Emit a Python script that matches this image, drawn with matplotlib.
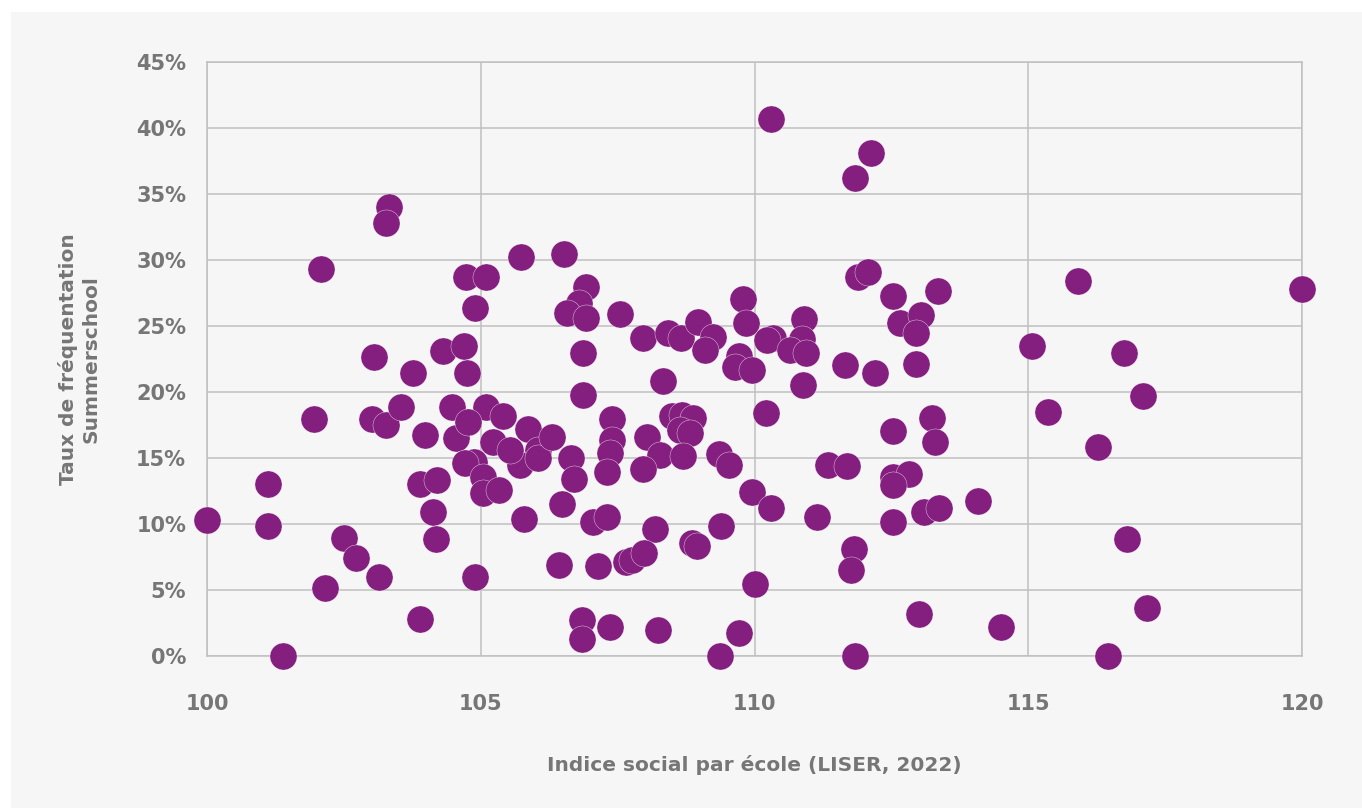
import matplotlib.pyplot as plt
from matplotlib.patches import Rectangle
from matplotlib.ticker import MultipleLocator, PercentFormatter

# Indice social par école (LISER, 2022)
indice_social = [
    100.0, 101.11, 101.11, 101.39, 101.95, 102.08, 102.16, 102.5, 102.72, 103.14,
    103.05, 103.01, 103.27, 103.32, 103.27, 103.54, 103.76, 103.98, 103.89, 104.2,
    104.13, 104.18, 103.89, 104.31, 104.69, 104.75, 104.47, 104.55, 105.1, 104.77,
    105.41, 105.22, 104.88, 104.71, 105.04, 105.04, 105.33, 105.79, 104.89, 105.86,
    106.05, 105.72, 105.53, 106.05, 104.73, 105.1, 104.89, 105.74, 110.3, 112.13,
    111.84, 106.52, 106.92, 106.79, 106.58, 106.92, 107.54, 106.87, 107.96, 108.42,
    108.66, 108.97, 109.24, 109.1, 109.79, 109.84, 109.72, 109.64, 109.95, 108.33,
    110.34, 110.23, 110.9, 110.87, 110.65, 110.94, 110.89, 111.89, 112.07, 112.53,
    113.35, 112.66, 113.04, 112.95, 111.65, 112.2, 112.95, 106.87, 110.21, 106.3,
    106.65, 106.7, 106.48, 107.4, 107.4, 107.36, 107.31, 108.04, 108.27, 107.96,
    108.49, 108.68, 108.88, 108.64, 108.82, 108.69, 109.35, 109.53, 109.95, 110.3,
    107.05, 107.31, 108.18, 108.86, 108.95, 109.39, 106.43, 107.14, 107.65, 107.76,
    107.98, 110.01, 106.85, 106.85, 107.36, 108.24, 109.72, 109.37, 111.34, 111.69,
    111.14, 112.53, 113.24, 113.3, 112.53, 112.82, 112.53, 112.53, 113.1, 113.37,
    111.82, 111.76, 113.0, 111.84, 115.91, 120.0, 115.07, 116.75, 117.1, 115.36,
    116.27, 114.08, 116.8, 114.5, 117.17, 116.46,
]

# Taux de fréquentation Summerschool (en %)
taux_summerschool = [
    10.3, 13.0, 9.85, 0.0, 17.95, 29.3, 5.15, 8.95, 7.4, 6.0,
    22.65, 17.95, 17.5, 34.0, 32.8, 18.85, 21.45, 16.75, 13.0, 13.3,
    10.9, 8.85, 2.8, 23.1, 23.5, 21.45, 18.85, 16.5, 18.85, 17.7,
    18.2, 16.2, 14.7, 14.6, 13.55, 12.35, 12.6, 10.4, 6.0, 17.2,
    15.6, 14.45, 15.6, 15.0, 28.7, 28.7, 26.35, 30.2, 40.7, 38.1,
    36.2, 30.45, 27.95, 26.75, 26.0, 25.6, 25.9, 22.95, 24.1, 24.45,
    24.1, 25.3, 24.15, 23.2, 27.05, 25.2, 22.7, 21.9, 21.65, 20.85,
    24.1, 23.95, 25.55, 24.0, 23.2, 22.95, 20.55, 28.7, 29.1, 27.3,
    27.65, 25.2, 25.85, 24.45, 22.05, 21.45, 22.1, 19.8, 18.4, 16.6,
    15.0, 13.4, 11.5, 17.95, 16.35, 15.4, 13.95, 16.6, 15.2, 14.15,
    18.2, 18.25, 18.05, 17.1, 16.9, 15.15, 15.3, 14.45, 12.4, 11.2,
    10.15, 10.55, 9.6, 8.55, 8.35, 9.85, 6.9, 6.8, 7.1, 7.25,
    7.8, 5.45, 2.75, 1.3, 2.2, 1.95, 1.75, 0.0, 14.45, 14.4,
    10.55, 17.05, 18.0, 16.2, 13.55, 13.8, 12.95, 10.15, 10.9, 11.2,
    8.1, 6.5, 3.2, 0.0, 28.4, 27.8, 23.5, 22.95, 19.7, 18.5,
    15.85, 11.75, 8.85, 2.2, 3.65, 0.0,
]

panel_color = '#f6f6f6'
dot_color = '#841f7f'
text_color = '#767676'
grid_color = '#c0c0c0'

fig = plt.figure(figsize=(13.62, 8.08), dpi=100, facecolor='white')

# light grey panel behind the chart
panel = Rectangle((11 / 1362, 0), 1 - 11 / 1362, 1 - 12 / 808,
                  transform=fig.transFigure, facecolor=panel_color,
                  edgecolor='none', zorder=-10)
fig.add_artist(panel)

ax = fig.add_axes([207 / 1362, 1 - 656 / 808, 1095 / 1362, 594 / 808])
ax.set_facecolor(panel_color)

ax.scatter(indice_social, [t / 100 for t in taux_summerschool], s=380,
           color=dot_color, edgecolors='white', linewidths=0.25,
           zorder=3, clip_on=False)

ax.set_xlim(100, 120)
ax.set_ylim(0, 0.45)
ax.xaxis.set_major_locator(MultipleLocator(5))
ax.yaxis.set_major_locator(MultipleLocator(0.05))
ax.yaxis.set_major_formatter(PercentFormatter(1.0, decimals=0))

ax.grid(True, color=grid_color, linewidth=1.1)
ax.set_axisbelow(True)
for side in ax.spines.values():
    side.set_color(grid_color)
    side.set_linewidth(1.1)

ax.tick_params(length=0, labelsize=15, labelcolor=text_color)
ax.tick_params(axis='x', pad=27)
ax.tick_params(axis='y', pad=15)
for lab in ax.get_xticklabels() + ax.get_yticklabels():
    lab.set_fontweight('bold')

ax.set_xlabel('Indice social par école (LISER, 2022)', fontsize=14.5,
              fontweight='bold', color=text_color, labelpad=30)
ax.set_ylabel('Taux de fréquentation\nSummerschool', fontsize=14.5,
              fontweight='bold', color=text_color, labelpad=26,
              linespacing=1.2)

fig.savefig('out.png', dpi=100, facecolor='white')
